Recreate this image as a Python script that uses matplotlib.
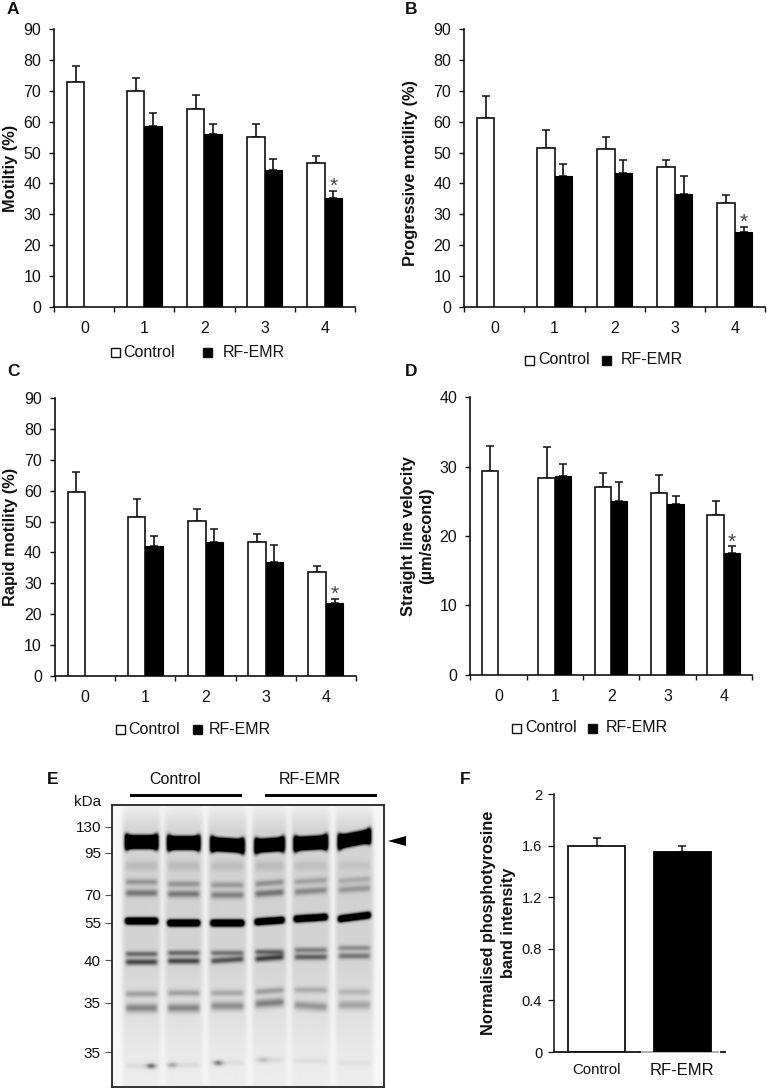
import numpy as np
import matplotlib
matplotlib.use('Agg')
import matplotlib.pyplot as plt
from matplotlib.patches import Rectangle, Polygon

plt.rcParams['font.family'] = ['Liberation Sans', 'DejaVu Sans']

W, H = 767, 1089

categories = ['0', '1', '2', '3', '4']

motility_ctrl = [73, 70, 64, 55, 46.5]
motility_ctrl_top = [78, 74.2, 68.7, 59.2, 49]
motility_rf = [np.nan, 58.7, 56, 44.3, 35.2]
motility_rf_top = [np.nan, 62.7, 59.2, 48, 37.7]

progressive_ctrl = [61.2, 51.4, 51.2, 45.2, 33.8]
progressive_ctrl_top = [68.4, 57.2, 55, 47.6, 36.3]
progressive_rf = [np.nan, 42.5, 43.3, 36.6, 24.1]
progressive_rf_top = [np.nan, 46.2, 47.7, 42.3, 26]

rapid_ctrl = [59.7, 51.6, 50.3, 43.5, 33.7]
rapid_ctrl_top = [66.2, 57.3, 54, 46, 35.5]
rapid_rf = [np.nan, 42, 43.3, 37, 23.5]
rapid_rf_top = [np.nan, 45.3, 47.5, 42.5, 25]

velocity_ctrl = [29.4, 28.4, 27, 26.2, 23]
velocity_ctrl_top = [33, 32.8, 29.1, 28.8, 25]
velocity_rf = [np.nan, 28.7, 25, 24.6, 17.6]
velocity_rf_top = [np.nan, 30.4, 27.8, 25.8, 18.5]

band_labels = ['Control', 'RF-EMR']
band_values = [1.6, 1.55]
band_tops = [1.66, 1.595]
band_ticks = [0, 0.4, 0.8, 1.2, 1.6, 2]
band_tick_labels = ['0', '0.4', '0.8', '1.2', '1.6', '2']

kda_labels = ['130', '95', '70', '55', '40', '35', '35']
kda_rows = [827, 853, 895, 923, 960, 1003, 1052]

# blot: lane edges and band rows, one value per lane
lane_left = [126, 168, 211, 255, 294, 338]
lane_right = [157, 199, 243, 283, 326, 369]
blot_bands = [
    # rows, half height, darkness, tilt, flare
    ([842, 843, 845, 845, 843, 839], 5.5, 4.5, [0, 0, 1, -1, -1, -3], 0.5),
    ([866, 866, 866, 866, 866, 866], 5.0, 0.10, [0, 0, 0, 0, 0, 0], 0),
    ([882, 884, 885, 883, 881, 880], 2.6, 0.30, [0, 0, 0, -1, -1, -1], 0),
    ([893, 894, 895, 893, 891, 889], 3.0, 0.42, [0, 0, 0, -1, -1, -1], 0),
    ([921, 923, 923, 921, 918, 917], 2.7, 3.2, [0, 0, 0, -1, -1, -2], 0),
    ([954, 953, 953, 952, 950, 948], 2.0, 0.58, [0, 0, 0, 0, 0, 0], 0),
    ([962, 961, 960, 958, 957, 956], 2.4, 0.72, [0, 0, -1, -1, 0, 0], 0),
    ([994, 993, 993, 991, 990, 992], 2.6, 0.28, [0, 0, 0, -1, 0, 0], 0),
    ([1008, 1008, 1006, 1003, 1006, 1005], 4.0, 0.38, [0, 0, 0, -1, 1, 0], 0),
    ([1066, 1065, 1063, 1060, 1061, 1063], 2.0, 0.08, [0, 0, 0, 0, 0, 0], 0),
]
lane_strength = [1.0, 1.0, 0.9, 1.05, 0.8, 0.65]
smear_rows = [805, 815, 830, 860, 900, 960, 1020, 1050, 1087]
smear_level = [0.02, 0.08, 0.14, 0.14, 0.15, 0.14, 0.09, 0.06, 0.04]
spot_x = [151, 172, 218, 263]
spot_y = [1066, 1065, 1063, 1060]
spot_level = [0.7, 0.35, 0.6, 0.2]


def add_axes_px(fig, left, top, right, bottom):
    return fig.add_axes([left / W, 1 - bottom / H, (right - left) / W, (bottom - top) / H])


def fig_text(fig, x, y, s, **kw):
    kw.setdefault('va', 'center')
    kw.setdefault('color', '#111111')
    return fig.text(x / W, 1 - y / H, s, **kw)


def legend_box(fig, x0, x1, yc, color):
    h = (x1 - x0) / 2
    fig.add_artist(Rectangle((x0 / W, 1 - (yc + h) / H), (x1 - x0) / W, 2 * h / H,
                             transform=fig.transFigure, facecolor=color,
                             edgecolor='#111111', linewidth=1.0))


def bar_panel(fig, box, ctrl, ctrl_top, rf, rf_top, ymax, step, star_idx=4):
    ax = add_axes_px(fig, *box)
    x = np.arange(len(categories))
    w = 0.29
    ax.bar(x - w / 2, ctrl, w, facecolor='white', edgecolor='#111111', linewidth=1.2, zorder=3)
    ax.bar(x + w / 2, rf, w, facecolor='black', edgecolor='black', linewidth=0.8, zorder=3)
    for xs, vals, tops in [(x - w / 2, ctrl, ctrl_top), (x + w / 2, rf, rf_top)]:
        vals = np.array(vals, dtype=float)
        tops = np.array(tops, dtype=float)
        up = tops - vals
        lo = np.zeros_like(up)
        ax.errorbar(xs, vals, yerr=[lo, up], fmt='none', ecolor='#111111',
                    elinewidth=1.2, capsize=3, capthick=1.1, zorder=2)
    ax.annotate('*', (x[star_idx] + w / 2, rf_top[star_idx]), xytext=(0, -4),
                textcoords='offset points', ha='center', va='bottom',
                fontsize=15, color='#444444')
    ax.set_xlim(-0.5, len(categories) - 0.5)
    ax.set_ylim(0, ymax)
    ax.set_xticks(np.arange(len(categories) + 1) - 0.5)
    ax.set_xticklabels([])
    ax.set_xticks(x, categories, minor=True)
    ax.tick_params(axis='x', which='major', length=3.5, width=1.0, color='#111111')
    ax.tick_params(axis='x', which='minor', length=0, pad=10, labelsize=11.5, labelcolor='#111111')
    ax.set_yticks(np.arange(0, ymax + 1, step))
    ax.tick_params(axis='y', length=3.5, width=1.0, pad=6, labelsize=11.5,
                   color='#111111', labelcolor='#111111')
    for s in ['top', 'right']:
        ax.spines[s].set_visible(False)
    for s in ['left', 'bottom']:
        ax.spines[s].set_linewidth(1.2)
        ax.spines[s].set_color('#111111')
    ax.patch.set_alpha(0)
    return ax


def legend_row(fig, box_x, text_x, black_x, rf_x, yc):
    legend_box(fig, box_x, box_x + 9, yc, 'white')
    fig_text(fig, text_x, yc, band_labels[0], fontsize=11.5)
    legend_box(fig, black_x, black_x + 9, yc, 'black')
    fig_text(fig, rf_x, yc, band_labels[1], fontsize=11.5)


def blur(img, sigma):
    r = int(3 * sigma)
    k = np.exp(-0.5 * (np.arange(-r, r + 1) / sigma) ** 2)
    k /= k.sum()
    pad = np.pad(img, r, mode='edge')
    pad = np.apply_along_axis(lambda v: np.convolve(v, k, mode='same'), 0, pad)
    pad = np.apply_along_axis(lambda v: np.convolve(v, k, mode='same'), 1, pad)
    return pad[r:-r, r:-r]


def blot_image():
    ys = np.arange(805, 1087) + 0.5
    xs = np.arange(112, 384) + 0.5
    dark = np.zeros((len(ys), len(xs)))
    smear = np.interp(ys, smear_rows, smear_level)
    for i in range(len(lane_left)):
        xc = (lane_left[i] + lane_right[i]) / 2
        hw = (lane_right[i] - lane_left[i]) / 2
        # soft lane edges, the smear runs a bit wider than the bands
        mask = np.clip((hw + 6 - np.abs(xs - xc)) / 5.0, 0, 1)
        dark += np.outer(smear, mask)
        mask_b = np.clip((hw + 1.5 - np.abs(xs - xc)) / 3.0, 0, 1)
        for rows, half, level, tilt, flare in blot_bands:
            for j, xv in enumerate(xs):
                if mask_b[j] == 0:
                    continue
                rel = (xv - xc) / hw
                yc = rows[i] + tilt[i] * rel
                hh = half * (1 + flare * min(abs(rel), 1) ** 8)
                p = 4 if level > 1 else 2
                dark[:, j] += lane_strength[i] ** (0 if level > 1 else 1) * level * mask_b[j] * np.exp(-np.abs((ys - yc) / hh) ** p)
    for sx, sy, lv in zip(spot_x, spot_y, spot_level):
        dark += lv * np.outer(np.exp(-((ys - sy) / 1.8) ** 2), np.exp(-((xs - sx) / 4.0) ** 2))
    dark = blur(np.clip(dark, 0, 1.6), 1.4) + 0.03
    return np.clip(1 - dark, 0, 1)


def main():
    fig = plt.figure(figsize=(W / 100, H / 100), dpi=100, facecolor='white')

    bar_panel(fig, (54.3, 29.3, 354.7, 306.7), motility_ctrl, motility_ctrl_top,
              motility_rf, motility_rf_top, 90, 10)
    bar_panel(fig, (464.3, 29.3, 765, 306.7), progressive_ctrl, progressive_ctrl_top,
              progressive_rf, progressive_rf_top, 90, 10)
    bar_panel(fig, (55, 398.3, 356, 675.7), rapid_ctrl, rapid_ctrl_top,
              rapid_rf, rapid_rf_top, 90, 10)
    bar_panel(fig, (470.3, 397.3, 752, 674.7), velocity_ctrl, velocity_ctrl_top,
              velocity_rf, velocity_rf_top, 40, 10)

    legend_row(fig, 111, 123, 203, 223, 352)
    legend_row(fig, 525, 538, 602, 621, 360)
    legend_row(fig, 116, 128, 193, 209, 729)
    legend_row(fig, 512, 525, 588, 606, 728)

    ylab = dict(rotation=90, ha='center', fontweight='bold', fontsize=11.8)
    fig_text(fig, 10.5, 168, 'Motiltiy (%)', **ylab)
    fig_text(fig, 411, 173, 'Progressive motility (%)', **ylab)
    fig_text(fig, 11, 537, 'Rapid motility (%)', **ylab)
    fig_text(fig, 408, 536, 'Straight line velocity', **ylab)
    fig_text(fig, 427, 536, '(µm/second)', **ylab)

    for letter, x, y in [('A', 7, 10), ('B', 405, 10), ('C', 7, 372), ('D', 405, 372),
                         ('E', 47, 779), ('F', 460, 779)]:
        fig_text(fig, x, y, letter, fontweight='bold', fontsize=12.5)

    # blot
    ax = add_axes_px(fig, 112, 805, 384, 1087)
    ax.imshow(blot_image(), cmap='gray', vmin=0, vmax=1, aspect='auto',
              extent=(112, 384, 1087, 805), interpolation='bilinear')
    ax.set_xticks([])
    ax.set_yticks(kda_rows, kda_labels)
    ax.tick_params(axis='y', length=5, width=0.8, pad=3, labelsize=11,
                   color='#555555', labelcolor='#111111')
    for s in ax.spines.values():
        s.set_linewidth(1.3)
        s.set_color('#222222')

    fig_text(fig, 101, 802, 'kDa', ha='right', fontsize=11)
    fig_text(fig, 175, 779, 'Control', ha='center', fontsize=11.5)
    fig_text(fig, 310, 779, 'RF-EMR', ha='center', fontsize=11.5)
    for x0, x1 in [(130, 242), (265, 377)]:
        fig.add_artist(Rectangle((x0 / W, 1 - 797 / H), (x1 - x0) / W, 3 / H,
                                 transform=fig.transFigure, facecolor='black', edgecolor='none'))
    fig.add_artist(Polygon([(388 / W, 1 - 841 / H), (406 / W, 1 - 836 / H), (406 / W, 1 - 846 / H)],
                           transform=fig.transFigure, facecolor='black', edgecolor='none'))

    # panel F
    ax = add_axes_px(fig, 554, 794, 725, 1052)
    xf = np.arange(len(band_labels))
    ax.bar(xf, band_values, 0.67, color=['white', 'black'], edgecolor=['#111111', 'black'],
           linewidth=1.3, zorder=3)
    vals = np.array(band_values)
    ax.errorbar(xf, vals, yerr=[np.zeros(2), np.array(band_tops) - vals], fmt='none',
                ecolor='#111111', elinewidth=1.1, capsize=3, capthick=1.1, zorder=2)
    ax.set_xlim(-0.5, 1.5)
    ax.set_ylim(0, 2)
    ax.set_xticks(xf, band_labels)
    ax.tick_params(axis='x', length=0, pad=8, labelsize=10.8, labelcolor='#111111')
    ax.get_xticklabels()[1].set_fontsize(12)
    ax.set_yticks(band_ticks, band_tick_labels)
    ax.tick_params(axis='y', length=4, width=0.9, pad=4.5, labelsize=10.5,
                   color='#111111', labelcolor='#111111')
    for s in ['top', 'right', 'bottom']:
        ax.spines[s].set_visible(False)
    ax.spines['left'].set_linewidth(1.1)
    ax.spines['left'].set_color('#111111')
    ax.plot([-0.5, 0.5], [0, 0], color='#111111', lw=1.3, clip_on=False, zorder=4)
    ax.plot([0.5, 1.42], [0, 0], color='#aaaaaa', lw=1.3, clip_on=False, zorder=2)
    ax.plot([1.45, 1.5], [0, 0], color='#111111', lw=1.3, clip_on=False, zorder=4)
    ylab_f = dict(rotation=90, ha='center', fontweight='bold', fontsize=11.7)
    fig_text(fig, 489, 923, 'Normalised phosphotyrosine', **ylab_f)
    fig_text(fig, 508, 923, 'band intensity', **ylab_f)

    fig.savefig('out.png', dpi=100)


if __name__ == '__main__':
    main()
